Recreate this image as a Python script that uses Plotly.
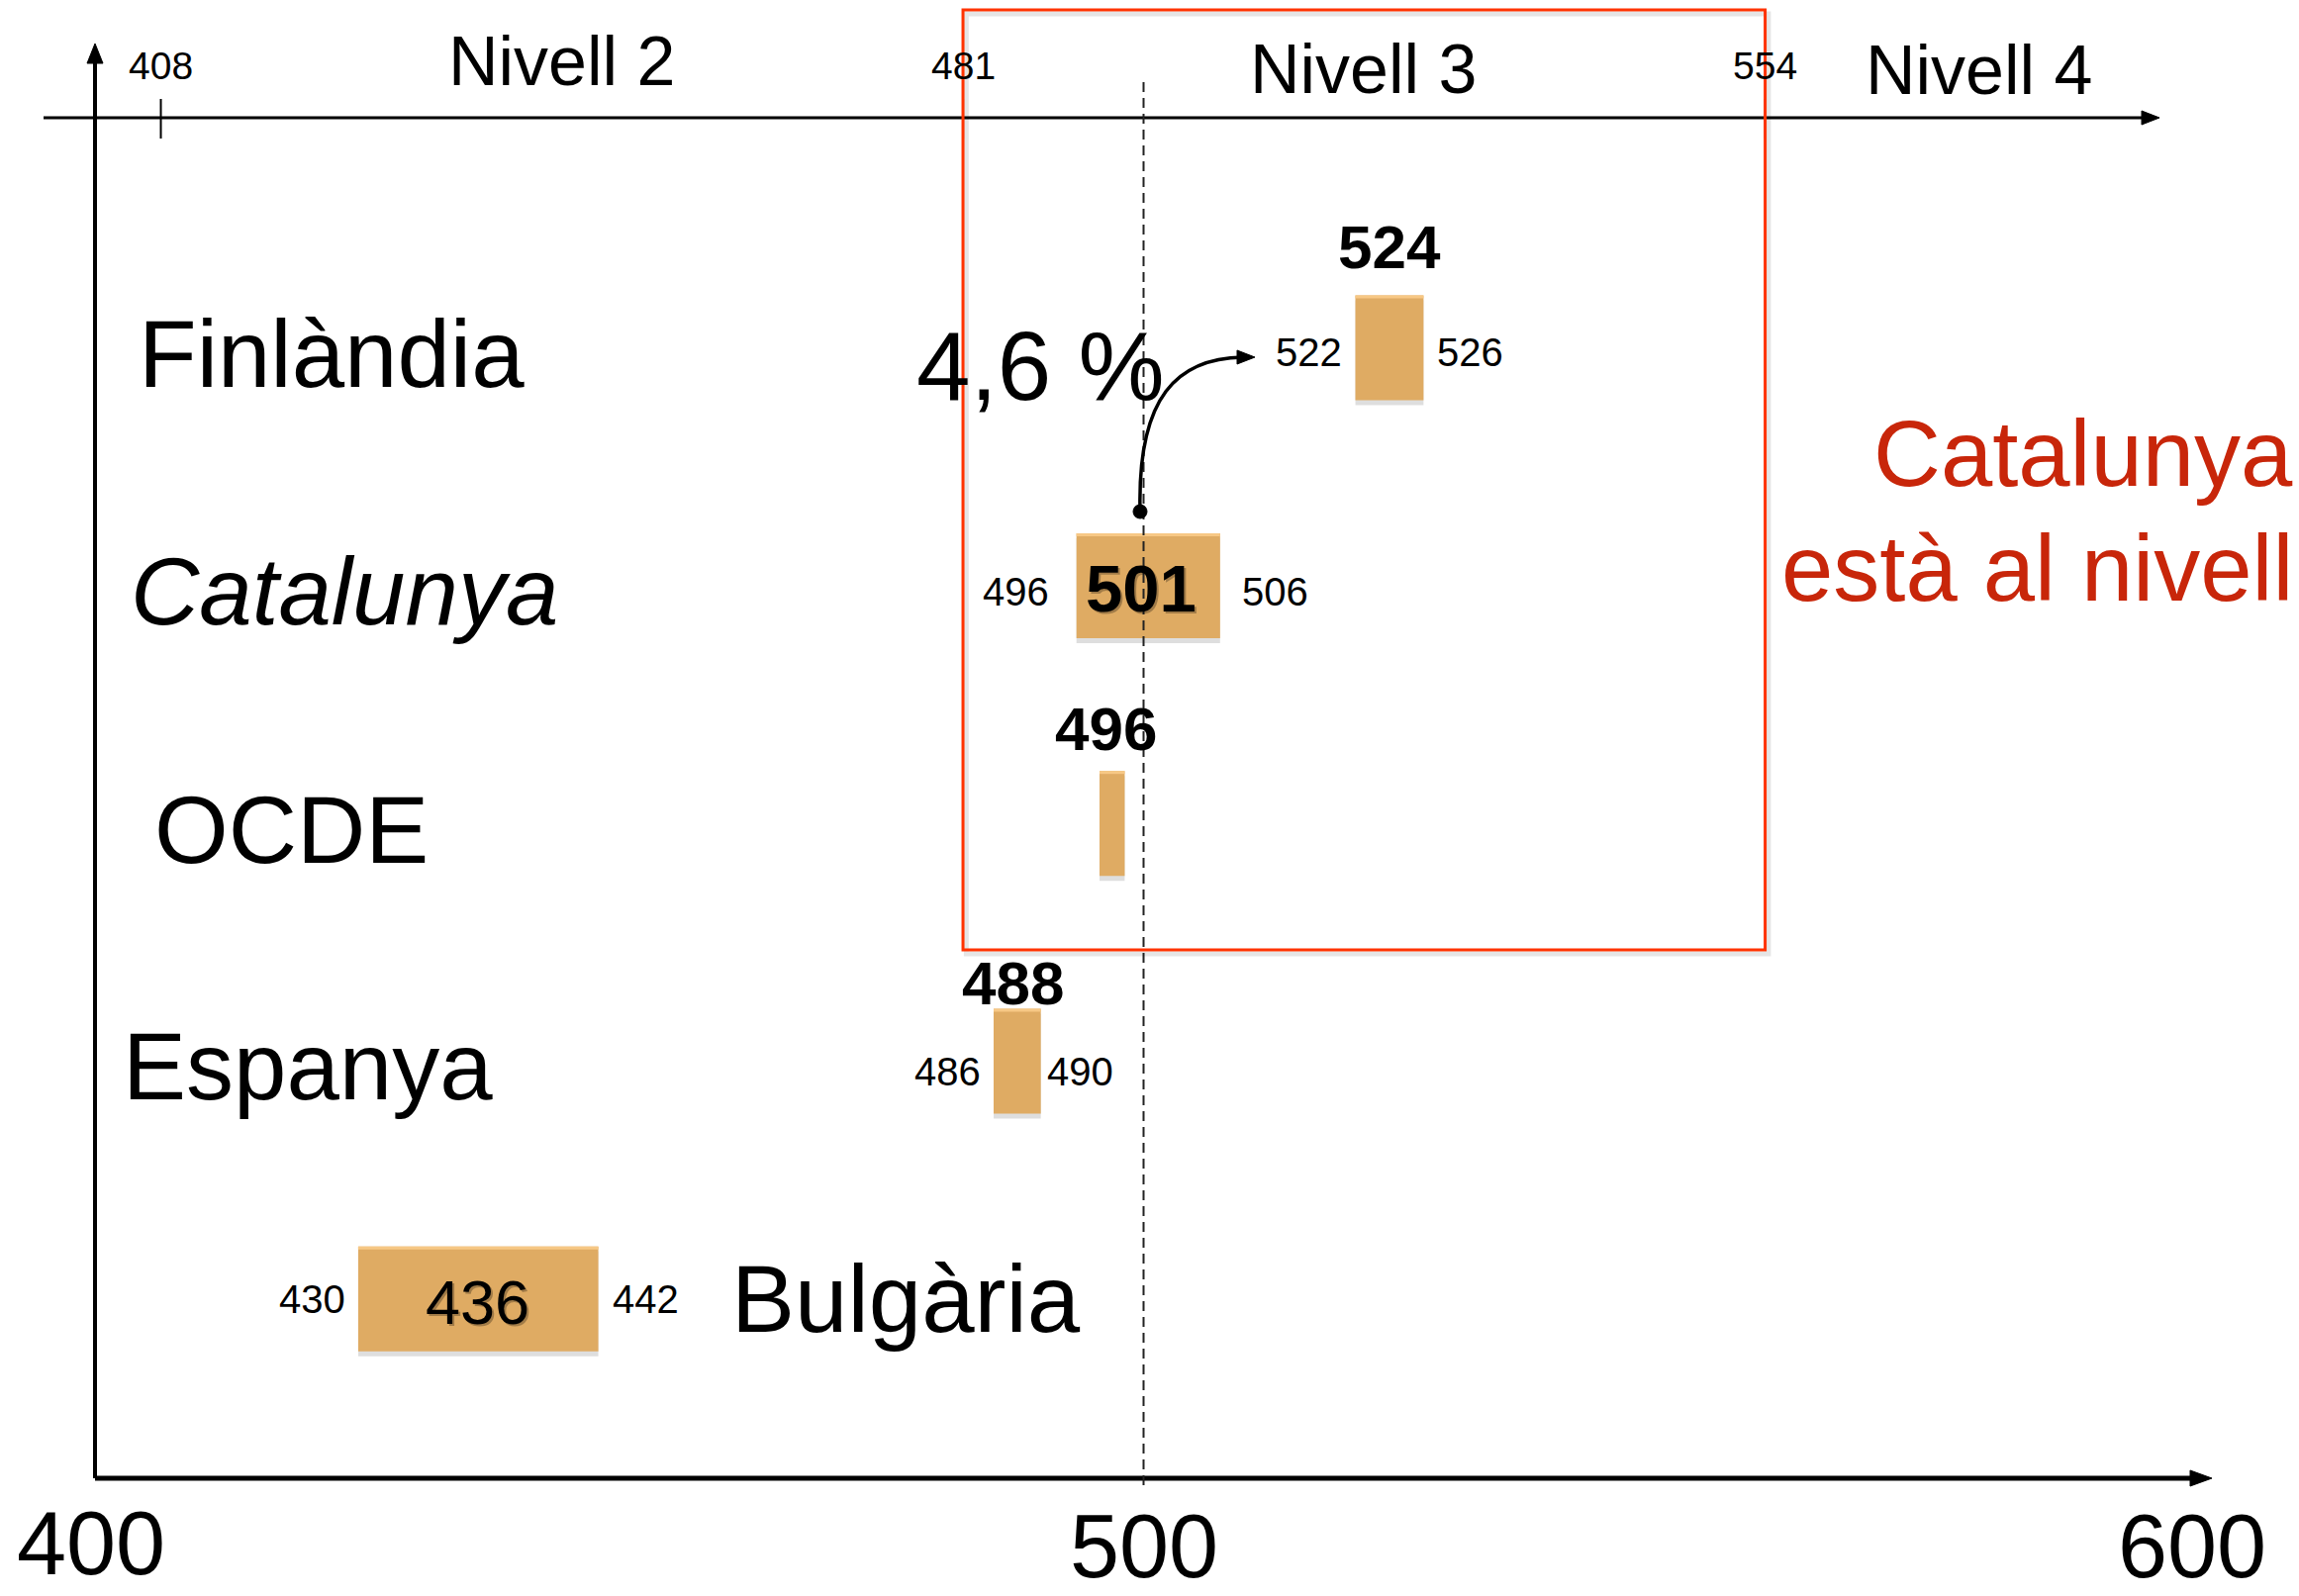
import plotly.graph_objects as go

# ---------------- data ----------------
countries = ["Finlàndia", "Catalunya", "OCDE", "Espanya", "Bulgària"]
means = [524, 501, 496, 488, 436]
ci_low = [522, 496, None, 486, 430]
ci_high = [526, 506, None, 490, 442]
bar_left = [520.2, 493.6, 495.8, 485.7, 425.1]    # drawn extent of each box
bar_right = [526.7, 507.3, 498.2, 490.2, 448.0]
x_ticks = [400, 500, 600]
level_cuts = [408, 481, 554]
level_names = ["Nivell 2", "Nivell 3", "Nivell 4"]
oecd_ref = 500
gap_label = "4,6 %"
note_lines = ["Catalunya", "està al nivell"]

# ---------------- layout helpers ----------------
W, H = 2323, 1613
FONT = "Liberation Sans, Arial, Helvetica, sans-serif"
X_PX0, X_SCALE = 96.0, 10.595
X_RANGE = [400 - X_PX0 / X_SCALE, 400 + (W - X_PX0) / X_SCALE]
X2_SLOPE, X2_OFF = 11.103, -4367.5
X2_RANGE = [-X2_OFF / X2_SLOPE, (W - X2_OFF) / X2_SLOPE]
Y_PX0, Y_STEP = 351.6, 240.3
Y_RANGE = [(H - Y_PX0) / Y_STEP, -Y_PX0 / Y_STEP]
BAR_W = 106 / Y_STEP


def dx(px):
    return 400 + (px - X_PX0) / X_SCALE


def dy(py):
    return (py - Y_PX0) / Y_STEP


def P(px, py):
    return f"{dx(px):.4f},{dy(py):.4f}"


idx = list(range(len(countries)))
widths = [r - l for l, r in zip(bar_left, bar_right)]

fig = go.Figure()

# invisible anchor for the top (level) axis
fig.add_trace(go.Scatter(x=level_cuts, y=[-1.3] * 3, xaxis="x2", yaxis="y",
                         mode="markers", marker=dict(opacity=0),
                         hoverinfo="skip", showlegend=False))
# bar shadow
fig.add_trace(go.Bar(orientation="h", y=[i + 5 / Y_STEP for i in idx], x=widths,
                     base=bar_left, width=BAR_W,
                     marker=dict(color="rgba(0,0,0,0.13)", line=dict(width=0)),
                     hoverinfo="skip", showlegend=False))
# bars
fig.add_trace(go.Bar(orientation="h", y=idx, x=widths, base=bar_left, width=BAR_W,
                     marker=dict(color="#DFAB63", line=dict(width=0)),
                     hoverinfo="skip", showlegend=False))
# light top edge
fig.add_trace(go.Bar(orientation="h", y=[i - BAR_W / 2 + 1.5 / Y_STEP for i in idx],
                     x=widths, base=bar_left, width=3 / Y_STEP,
                     marker=dict(color="#F7C885", line=dict(width=0)),
                     hoverinfo="skip", showlegend=False))

shapes = []
BLACK = "black"
# vertical axis + arrow
shapes.append(dict(type="line", xref="x", yref="y", x0=400, x1=400,
                   y0=dy(1494), y1=dy(60), line=dict(color=BLACK, width=4)))
shapes.append(dict(type="path", xref="x", yref="y",
                   path=f"M{P(96,44)} L{P(88,64)} L{P(104,64)} Z",
                   fillcolor=BLACK, line=dict(color=BLACK, width=1)))
# bottom axis + arrow
shapes.append(dict(type="line", xref="x", yref="y", x0=400, x1=dx(2216),
                   y0=dy(1494), y1=dy(1494), line=dict(color=BLACK, width=5)))
shapes.append(dict(type="path", xref="x", yref="y",
                   path=f"M{P(2235,1494)} L{P(2213,1486)} L{P(2213,1502)} Z",
                   fillcolor=BLACK, line=dict(color=BLACK, width=1)))
# top (levels) axis + arrow
shapes.append(dict(type="line", xref="x", yref="y", x0=dx(44), x1=dx(2168),
                   y0=dy(119), y1=dy(119), line=dict(color=BLACK, width=3)))
shapes.append(dict(type="path", xref="x", yref="y",
                   path=f"M{P(2182,119)} L{P(2164,112)} L{P(2164,126)} Z",
                   fillcolor=BLACK, line=dict(color=BLACK, width=1)))
for c in level_cuts:
    shapes.append(dict(type="line", xref="x2", yref="y", x0=c, x1=c,
                       y0=dy(100), y1=dy(140), line=dict(color=BLACK, width=2)))
# OECD reference dashed line
shapes.append(dict(type="line", xref="x", yref="y", x0=oecd_ref, x1=oecd_ref,
                   y0=dy(83), y1=dy(1507),
                   line=dict(color="#222222", width=2, dash="10px,6px")))
# red box around level 3 (shadow, then box)
shapes.append(dict(type="rect", xref="x2", yref="y", x0=level_cuts[1] + 0.3,
                   x1=level_cuts[2] + 0.3, y0=dy(14), y1=dy(964),
                   line=dict(color="rgba(0,0,0,0.10)", width=5)))
shapes.append(dict(type="rect", xref="x2", yref="y", x0=level_cuts[1],
                   x1=level_cuts[2], y0=dy(10), y1=dy(960),
                   line=dict(color="#FF3300", width=3)))
# curved arrow from Catalunya to Finland
shapes.append(dict(type="path", xref="x", yref="y",
                   path=f"M{P(1152,517)} C{P(1149,400)} {P(1190,362)} {P(1256,361)}",
                   line=dict(color=BLACK, width=3.5)))
shapes.append(dict(type="path", xref="x", yref="y",
                   path=f"M{P(1268,361)} L{P(1250,354)} L{P(1250,368)} Z",
                   fillcolor=BLACK, line=dict(color=BLACK, width=1)))
shapes.append(dict(type="circle", xref="x", yref="y", x0=dx(1145), x1=dx(1159),
                   y0=dy(510), y1=dy(524), fillcolor=BLACK,
                   line=dict(color=BLACK, width=1)))

ann = []


def text(x, y, s, size, xref="x", yref="y", xanchor="center", yanchor="middle",
         xshift=0, yshift=0, color="black"):
    ann.append(dict(x=x, y=y, xref=xref, yref=yref, text=s, showarrow=False,
                    font=dict(family=FONT, size=size, color=color),
                    xanchor=xanchor, yanchor=yanchor, xshift=xshift, yshift=yshift))


# row names
name_px = [138, 130, 154, 122, 737]
name_down = [6, 6, 6, 5, 0]
for i, n in enumerate(countries):
    s = f"<i>{n}</i>" if n == "Catalunya" else n
    text(dx(name_px[i]), i, s, 96, xanchor="left", yshift=-name_down[i])

# mean labels
mean_pos = ["above", "inside", "above", "above", "inside"]
mean_up = [102, 0, 96, 79, 0]
mean_dx = [0, -7, -6, -4, -1]
for i, m in enumerate(means):
    cx = (bar_left[i] + bar_right[i]) / 2
    if mean_pos[i] == "above":
        text(cx, i, f"<b>{m}</b>", 62, xshift=mean_dx[i], yshift=mean_up[i])
    else:
        bold = i == 1
        s = f"<b>{m}</b>" if bold else str(m)
        sz = 67 if bold else 63
        text(cx, i, s, sz, xshift=mean_dx[i] + 2, yshift=-2 - 3,
             color="rgba(0,0,0,0.28)")
        text(cx, i, s, sz, xshift=mean_dx[i], yshift=-3)

# interval labels
gap_l = [12, 26, 0, 11, 11]
gap_r = [12, 20, 0, 4, 12]
ci_down = [4, 6, 0, 10, 0]
for i in idx:
    if ci_low[i] is not None:
        text(bar_left[i], i, str(ci_low[i]), 40, xanchor="right",
             xshift=-gap_l[i], yshift=-ci_down[i])
    if ci_high[i] is not None:
        text(bar_right[i], i, str(ci_high[i]), 40, xanchor="left",
             xshift=gap_r[i], yshift=-ci_down[i])

# top level axis labels
for c in level_cuts:
    text(c, dy(66), str(c), 39, xref="x2")
level_label_x = [444.5, 517.5, 573.5]
level_label_py = [62, 70, 71]
for n, lx, ly in zip(level_names, level_label_x, level_label_py):
    text(lx, dy(ly), n, 70, xref="x2")

# bottom tick labels
tick_py = [1560, 1563, 1563]
tick_shift = [-4, 0, 0]
for t, ty, ts in zip(x_ticks, tick_py, tick_shift):
    text(t, dy(ty), str(t), 90, xshift=ts)

# gap annotation and red note
text(dx(924), dy(370), gap_label, 98, xanchor="left")
text(dx(2319), dy(458), note_lines[0], 94, xanchor="right", color="#C8260A")
text(dx(2319), dy(574), note_lines[1], 94, xanchor="right", color="#C8260A")

fig.update_layout(
    width=W, height=H,
    margin=dict(l=0, r=0, t=0, b=0, pad=0),
    paper_bgcolor="white", plot_bgcolor="white",
    showlegend=False, barmode="overlay",
    font=dict(family=FONT, color="black"),
    xaxis=dict(range=X_RANGE, visible=False, fixedrange=True),
    xaxis2=dict(range=X2_RANGE, visible=False, overlaying="x", side="top",
                anchor="y", fixedrange=True),
    yaxis=dict(range=Y_RANGE, visible=False, fixedrange=True),
    shapes=shapes, annotations=ann,
)

fig.write_html("out.html", config={"displayModeBar": False},
               post_script="document.body.style.margin='0';"
                           "document.body.style.overflow='hidden';")
